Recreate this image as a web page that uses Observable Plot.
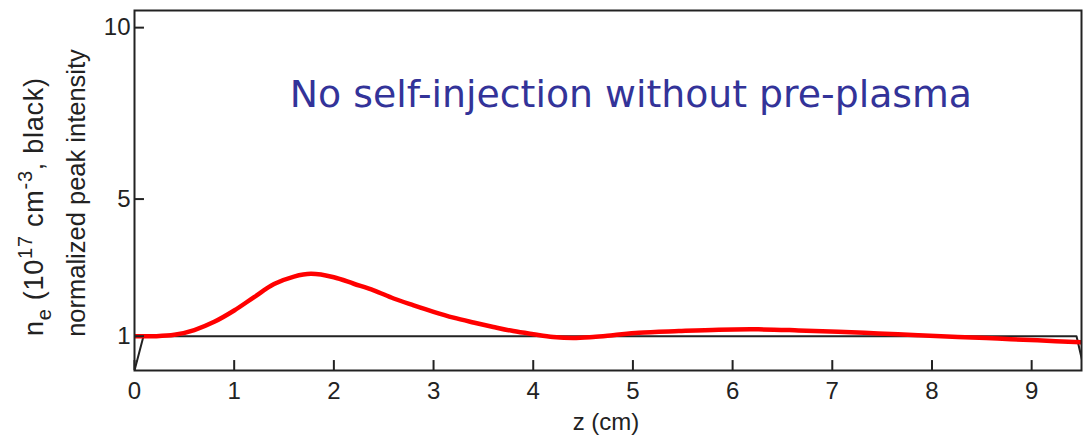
<!DOCTYPE html>
<html><head><meta charset="utf-8">
<script src="https://cdn.jsdelivr.net/npm/d3@7"></script>
<script src="https://cdn.jsdelivr.net/npm/@observablehq/plot@0.6"></script>
<style>
body{margin:0;background:#fff}
#chart{width:1083px;height:436px}
</style>
</head><body><div id="chart"></div>
<script>
// Normalized peak intensity (red)
const zIntensity = [0, 0.2, 0.4, 0.6, 0.8, 1.0, 1.2, 1.4, 1.6, 1.77, 2.0, 2.2, 2.4, 2.6, 2.8, 3.0, 3.2, 3.4, 3.6, 3.8, 4.0, 4.2, 4.4, 4.6, 4.8, 5.06, 5.46, 5.86, 6.26, 6.66, 7.06, 7.46, 7.86, 8.26, 8.66, 9.06, 9.5];
const intensity  = [1.0, 1.0, 1.04, 1.18, 1.42, 1.75, 2.14, 2.52, 2.74, 2.82, 2.72, 2.53, 2.34, 2.1, 1.9, 1.71, 1.54, 1.4, 1.27, 1.15, 1.06, 0.98, 0.95, 0.98, 1.03, 1.1, 1.15, 1.19, 1.2, 1.17, 1.13, 1.08, 1.03, 0.98, 0.93, 0.88, 0.82];
// Electron density profile (black)
const zDensity = [0, 0.09, 9.45, 9.53];
const density  = [0, 1, 1, 0];
// Ticks
const xTicks = [0, 1, 2, 3, 4, 5, 6, 7, 8, 9];
const yTicks = [1, 5, 10];
const xLabel = "z (cm)";
const title = "No self-injection without pre-plasma";
const titlePos = {z: 4.98, v: 8.05};

const redData = zIntensity.map((z, i) => ({z, v: intensity[i]}));
const blackData = zDensity.map((z, i) => ({z, v: density[i]}));

const W = 1083, H = 436;
const chart = Plot.plot({
  width: W, height: H,
  marginLeft: 134, marginRight: 2, marginTop: 10, marginBottom: 66,
  style: {fontFamily: "'Liberation Sans', Arial, sans-serif", fontSize: "24px", color: "#222", background: "#fff"},
  x: {domain: [0, 9.5]},
  y: {domain: [0, 10.5]},
  marks: [
    Plot.line(blackData, {x: "z", y: "v", stroke: "#222", strokeWidth: 2, clip: true}),
    Plot.line(redData, {x: "z", y: "v", stroke: "#ff0000", strokeWidth: 4.5, curve: "catmull-rom", clip: true}),
    Plot.ruleY(yTicks, {y: d => d, x1: 0, x2: 0.1, stroke: "#222", strokeWidth: 2}),
    Plot.ruleX(xTicks, {x: d => d, y1: 0, y2: 0.29, stroke: "#222", strokeWidth: 2}),
    Plot.axisY({ticks: yTicks, tickSize: 0, tickPadding: 4, label: null}),
    Plot.axisX({ticks: xTicks, tickSize: 0, tickPadding: 11, label: null}),
    Plot.frame({stroke: "#222", strokeWidth: 2}),
    Plot.text([title], {x: () => titlePos.z, y: () => titlePos.v, text: d => d, fill: "#333399",
      fontFamily: "'DejaVu Sans', Verdana, sans-serif", fontSize: 37.8, textAnchor: "middle"})
  ]
});
document.getElementById("chart").appendChild(chart);

const svg = d3.select(chart);
// x label
svg.append("text").attr("x", 606).attr("y", 430).attr("text-anchor", "middle")
  .attr("font-size", 24).attr("fill", "#222").text(xLabel);
// y labels (two lines, rotated)
const g1 = svg.append("text").attr("transform", "translate(43,207) rotate(-90)")
  .attr("text-anchor", "middle").attr("font-size", 27).attr("fill", "#222")
  .attr("textLength", 258).attr("lengthAdjust", "spacing");
g1.append("tspan").text("n");
g1.append("tspan").attr("font-size", 20).attr("dy", 8).text("e");
g1.append("tspan").attr("dy", -8).text(" (10");
g1.append("tspan").attr("font-size", 20).attr("dy", -11).text("17");
g1.append("tspan").attr("dy", 11).text(" cm");
g1.append("tspan").attr("font-size", 20).attr("dy", -11).text("-3");
g1.append("tspan").attr("dy", 11).text(", black)");
svg.append("text").attr("transform", "translate(85,193) rotate(-90)")
  .attr("text-anchor", "middle").attr("font-size", 25.5).attr("fill", "#222")
  .text("normalized peak intensity");
</script>
</body></html>
